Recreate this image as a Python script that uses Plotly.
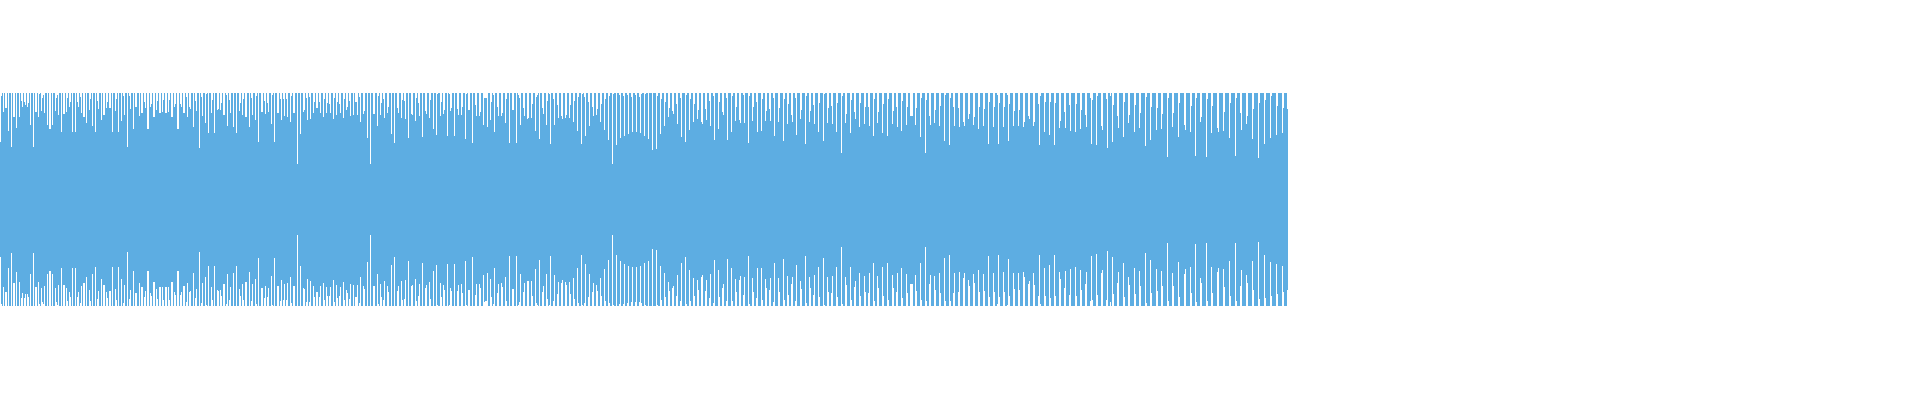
import plotly.graph_objects as go

# Peak level of the waveform, every sample not listed below sits at this level
PEAK = 106.5
N_SAMPLES = 1288

# Samples that fall short of the peak, and by how much on each side
dip_samples = [
    0, 1, 3, 5, 6, 8, 11, 13, 14, 16, 19, 21, 22, 24, 25, 27, 28, 30, 33, 35,
    36, 38, 39, 41, 42, 43, 44, 47, 49, 50, 52, 55, 56, 57, 58, 61, 63, 64, 66, 67,
    69, 70, 72, 75, 77, 78, 80, 81, 83, 84, 86, 89, 90, 92, 95, 97, 98, 101, 103, 104,
    106, 107, 109, 110, 112, 115, 116, 118, 121, 123, 124, 127, 129, 130, 133, 135, 136, 139, 141, 142,
    144, 145, 147, 148, 150, 151, 153, 154, 156, 157, 159, 160, 162, 163, 165, 166, 168, 169, 171, 172,
    174, 175, 177, 178, 180, 181, 183, 184, 186, 187, 189, 190, 193, 195, 196, 199, 201, 202, 205, 206,
    208, 211, 212, 214, 217, 218, 220, 221, 223, 224, 226, 227, 229, 230, 233, 236, 239, 240, 242, 243,
    245, 246, 249, 251, 252, 255, 256, 258, 261, 262, 264, 265, 267, 268, 271, 272, 274, 277, 278, 280,
    281, 283, 284, 286, 287, 290, 291, 293, 294, 297, 300, 303, 304, 306, 307, 309, 310, 313, 314, 316,
    317, 319, 320, 323, 324, 326, 327, 329, 330, 333, 334, 336, 337, 339, 340, 343, 344, 346, 347, 349,
    350, 353, 355, 356, 357, 359, 360, 363, 364, 367, 370, 373, 374, 377, 378, 380, 381, 383, 384, 387,
    388, 391, 394, 397, 398, 401, 402, 404, 405, 408, 411, 412, 415, 416, 418, 419, 422, 425, 426, 429,
    430, 433, 436, 437, 440, 441, 443, 444, 447, 449, 450, 451, 454, 457, 458, 461, 462, 465, 466, 468,
    469, 472, 475, 476, 479, 480, 483, 484, 485, 486, 487, 490, 491, 493, 494, 497, 498, 501, 502, 505,
    506, 509, 512, 513, 516, 518, 519, 520, 523, 524, 527, 528, 531, 532, 535, 536, 537, 539, 542, 543,
    546, 547, 549, 550, 553, 554, 557, 558, 561, 562, 565, 566, 569, 570, 573, 574, 577, 578, 581, 582,
    584, 585, 588, 589, 592, 593, 596, 597, 600, 601, 604, 605, 608, 609, 612, 613, 616, 619, 620, 623,
    624, 627, 628, 631, 632, 635, 636, 639, 640, 641, 644, 645, 648, 652, 656, 657, 660, 661, 664, 665,
    668, 669, 672, 673, 676, 677, 680, 681, 685, 686, 689, 690, 693, 694, 697, 698, 701, 702, 705, 706,
    709, 710, 713, 714, 718, 719, 722, 723, 726, 727, 731, 732, 735, 736, 739, 740, 743, 744, 748, 749,
    752, 753, 756, 757, 761, 762, 765, 766, 769, 770, 773, 774, 778, 779, 783, 784, 787, 788, 791, 792,
    795, 796, 800, 801, 805, 806, 809, 810, 813, 814, 818, 819, 823, 824, 827, 828, 831, 832, 836, 837,
    841, 842, 845, 846, 850, 851, 854, 855, 859, 860, 864, 865, 868, 869, 873, 874, 877, 878, 882, 883,
    887, 888, 892, 893, 896, 897, 901, 902, 906, 907, 910, 911, 912, 915, 916, 920, 921, 925, 926, 929,
    930, 934, 935, 939, 940, 944, 945, 949, 950, 953, 954, 958, 959, 963, 964, 968, 969, 973, 974, 978,
    979, 983, 984, 988, 989, 993, 994, 997, 998, 999, 1003, 1004, 1007, 1008, 1009, 1013, 1014, 1018, 1019, 1023,
    1024, 1028, 1029, 1033, 1034, 1038, 1039, 1040, 1044, 1045, 1049, 1050, 1054, 1055, 1059, 1060, 1064, 1065, 1069, 1070,
    1075, 1076, 1080, 1081, 1085, 1086, 1090, 1091, 1092, 1096, 1097, 1101, 1102, 1106, 1107, 1110, 1112, 1113, 1117, 1118,
    1123, 1124, 1128, 1129, 1134, 1135, 1139, 1140, 1145, 1146, 1150, 1151, 1156, 1157, 1161, 1162, 1167, 1168, 1172, 1173,
    1178, 1179, 1184, 1185, 1190, 1191, 1195, 1196, 1200, 1201, 1206, 1207, 1211, 1212, 1217, 1218, 1223, 1224, 1229, 1230,
    1235, 1236, 1240, 1241, 1246, 1247, 1252, 1253, 1258, 1259, 1264, 1265, 1270, 1271, 1276, 1277, 1282, 1283, 1287,
]
upper_dips = [
    49, 3, 19, 15, 15, 38, 54, 24, 24, 35, 24, 8, 14, 9, 12, 14, 10, 32, 54, 19,
    19, 24, 1, 18, 5, 2, 20, 32, 36, 36, 32, 18, 5, 2, 22, 39, 21, 21, 19, 5,
    14, 9, 39, 39, 9, 14, 4, 20, 24, 24, 30, 17, 6, 33, 39, 8, 16, 27, 22, 22,
    15, 9, 15, 15, 39, 18, 6, 39, 28, 3, 22, 54, 3, 16, 36, 14, 14, 23, 20, 20,
    9, 15, 36, 36, 14, 11, 24, 24, 17, 8, 20, 20, 19, 7, 20, 20, 19, 7, 24, 24,
    14, 11, 36, 36, 11, 14, 20, 20, 4, 24, 14, 16, 34, 8, 18, 55, 4, 23, 30, 1,
    40, 20, 7, 40, 17, 16, 17, 10, 22, 22, 2, 33, 7, 20, 34, 40, 18, 10, 22, 6,
    24, 24, 34, 5, 22, 27, 3, 49, 19, 19, 8, 21, 10, 19, 31, 2, 49, 20, 20, 6,
    27, 6, 23, 6, 24, 29, 3, 20, 20, 71, 41, 19, 17, 5, 27, 4, 26, 20, 9, 15,
    15, 9, 20, 24, 6, 20, 10, 11, 20, 26, 5, 22, 9, 11, 20, 25, 6, 17, 14, 8,
    23, 22, 9, 9, 22, 4, 29, 21, 18, 45, 71, 21, 21, 33, 3, 22, 10, 6, 25, 20,
    14, 41, 50, 15, 20, 25, 7, 8, 26, 45, 21, 22, 28, 5, 10, 23, 44, 18, 21, 25,
    7, 36, 42, 1, 23, 9, 21, 17, 43, 1, 18, 15, 43, 16, 22, 22, 14, 46, 1, 17,
    17, 50, 12, 23, 23, 19, 32, 5, 5, 5, 34, 27, 9, 2, 39, 14, 23, 23, 20, 30,
    6, 50, 17, 17, 50, 2, 5, 32, 15, 23, 26, 25, 25, 11, 38, 4, 2, 46, 15, 21,
    32, 8, 1, 51, 6, 32, 12, 25, 23, 26, 25, 22, 25, 12, 29, 8, 38, 4, 51, 1,
    4, 43, 9, 33, 14, 23, 22, 16, 29, 11, 37, 6, 47, 3, 71, 1, 52, 2, 45, 3,
    43, 2, 41, 4, 39, 2, 39, 4, 40, 1, 43, 1, 46, 57, 56, 3, 41, 6, 33, 9,
    24, 15, 18, 21, 11, 31, 5, 44, 49, 2, 37, 6, 29, 11, 26, 17, 29, 31, 16, 27,
    8, 33, 3, 47, 36, 9, 19, 22, 5, 47, 39, 3, 28, 14, 27, 30, 2, 30, 50, 3,
    28, 14, 9, 39, 38, 6, 28, 18, 16, 28, 5, 43, 29, 15, 48, 6, 31, 11, 22, 29,
    5, 42, 26, 17, 51, 3, 29, 18, 12, 31, 39, 10, 48, 1, 30, 15, 13, 31, 39, 10,
    60, 3, 30, 21, 40, 7, 19, 26, 34, 10, 31, 14, 14, 33, 43, 6, 30, 19, 40, 11,
    43, 6, 31, 18, 14, 34, 38, 8, 32, 14, 23, 23, 23, 32, 15, 44, 5, 60, 7, 23,
    32, 30, 17, 33, 13, 48, 2, 52, 5, 14, 33, 15, 34, 29, 33, 26, 21, 32, 24, 36,
    14, 33, 16, 51, 9, 34, 14, 2, 51, 10, 34, 14, 2, 48, 11, 33, 18, 33, 17, 34,
    29, 23, 26, 33, 29, 11, 52, 3, 39, 9, 42, 9, 52, 10, 35, 28, 19, 35, 12, 38,
    39, 11, 36, 17, 22, 34, 5, 51, 7, 52, 3, 33, 37, 6, 55, 3, 49, 12, 23, 35,
    44, 9, 30, 22, 39, 12, 35, 20, 53, 4, 47, 14, 37, 15, 36, 21, 64, 5, 34, 20,
    44, 10, 32, 37, 39, 13, 63, 5, 29, 24, 64, 6, 40, 13, 35, 39, 38, 19, 45, 10,
    63, 5, 20, 37, 31, 23, 46, 16, 65, 10, 51, 7, 45, 3, 42, 13, 40, 15, 16,
]
lower_dips = [
    49, 2, 19, 14, 14, 38, 53, 23, 23, 34, 24, 8, 13, 8, 12, 12, 9, 32, 53, 19,
    19, 24, 2, 18, 4, 2, 20, 32, 35, 35, 32, 18, 4, 1, 21, 38, 21, 21, 18, 5,
    14, 9, 38, 38, 9, 14, 3, 20, 23, 23, 29, 16, 5, 32, 39, 7, 15, 27, 21, 21,
    14, 8, 15, 15, 39, 17, 6, 39, 27, 3, 21, 54, 7, 16, 35, 13, 13, 23, 19, 19,
    9, 15, 35, 35, 13, 10, 24, 24, 17, 7, 19, 19, 19, 6, 19, 19, 19, 6, 24, 24,
    14, 11, 35, 35, 11, 14, 20, 20, 4, 23, 14, 15, 33, 8, 17, 54, 3, 23, 29, 1,
    40, 19, 6, 40, 16, 15, 16, 10, 22, 22, 2, 32, 6, 19, 33, 40, 17, 10, 22, 6,
    24, 24, 34, 5, 22, 27, 2, 48, 18, 18, 8, 20, 9, 18, 30, 1, 48, 20, 20, 5,
    26, 6, 22, 6, 23, 29, 3, 20, 20, 71, 40, 18, 17, 4, 27, 4, 25, 20, 9, 14,
    14, 9, 20, 23, 6, 19, 10, 10, 19, 26, 4, 21, 8, 10, 19, 24, 6, 16, 13, 7,
    22, 21, 9, 9, 21, 3, 29, 20, 17, 44, 71, 20, 20, 32, 2, 22, 9, 6, 25, 20,
    14, 41, 49, 15, 20, 25, 6, 7, 26, 45, 20, 21, 27, 5, 10, 22, 43, 18, 21, 24,
    7, 35, 41, 1, 23, 9, 21, 16, 42, 1, 18, 15, 42, 15, 21, 22, 13, 45, 1, 16,
    16, 49, 11, 22, 22, 18, 31, 4, 5, 5, 33, 27, 9, 2, 38, 13, 22, 23, 19, 29,
    5, 50, 17, 17, 50, 1, 4, 32, 14, 23, 25, 25, 25, 10, 37, 3, 1, 46, 14, 20,
    32, 7, 1, 50, 5, 31, 12, 24, 23, 26, 24, 21, 24, 12, 28, 7, 38, 3, 51, 1,
    3, 42, 9, 32, 14, 23, 21, 15, 28, 10, 37, 5, 46, 3, 71, 1, 51, 2, 45, 2,
    42, 3, 40, 4, 39, 4, 39, 4, 40, 3, 43, 1, 45, 57, 56, 1, 40, 6, 33, 9,
    24, 15, 18, 20, 10, 31, 5, 43, 49, 2, 36, 5, 28, 10, 26, 16, 29, 31, 15, 26,
    8, 32, 3, 46, 36, 9, 18, 22, 5, 47, 38, 5, 27, 14, 26, 30, 11, 29, 50, 2,
    28, 14, 8, 38, 38, 6, 27, 18, 16, 28, 4, 43, 28, 14, 47, 6, 30, 11, 22, 29,
    5, 41, 25, 17, 50, 3, 29, 18, 11, 31, 39, 9, 48, 1, 29, 14, 13, 30, 39, 9,
    59, 2, 29, 21, 39, 6, 19, 25, 33, 10, 30, 14, 13, 33, 43, 5, 30, 18, 39, 10,
    43, 6, 31, 18, 14, 33, 38, 8, 32, 13, 22, 22, 22, 31, 15, 43, 6, 59, 5, 22,
    31, 30, 16, 33, 13, 48, 5, 51, 5, 13, 33, 14, 34, 28, 33, 26, 20, 32, 23, 36,
    14, 32, 15, 50, 9, 33, 14, 2, 51, 9, 34, 14, 1, 47, 10, 33, 17, 33, 16, 34,
    29, 22, 25, 33, 21, 10, 51, 2, 38, 10, 41, 8, 51, 10, 34, 27, 18, 35, 11, 37,
    39, 10, 36, 16, 22, 34, 5, 50, 6, 52, 11, 33, 36, 6, 55, 4, 49, 12, 23, 34,
    43, 9, 29, 21, 38, 12, 35, 20, 53, 3, 46, 13, 37, 15, 35, 20, 63, 5, 33, 20,
    44, 9, 32, 37, 39, 13, 62, 4, 28, 23, 63, 5, 39, 13, 34, 38, 37, 19, 45, 10,
    63, 5, 20, 36, 31, 23, 45, 16, 64, 7, 51, 8, 44, 10, 42, 12, 40, 14, 16,
]

assert len(dip_samples) == len(upper_dips) == len(lower_dips)

upper = {s: PEAK - d for s, d in zip(dip_samples, upper_dips)}
lower = {s: PEAK - d for s, d in zip(dip_samples, lower_dips)}
samples = list(range(N_SAMPLES))
tops = [upper.get(s, PEAK) for s in samples]
bottoms = [-lower.get(s, PEAK) for s in samples]

fig = go.Figure(
    go.Bar(
        x=samples,
        y=[t - b for t, b in zip(tops, bottoms)],
        base=bottoms,
        width=1,
        marker=dict(color="#5dade2", line=dict(width=0)),
    )
)

fig.update_layout(
    width=1920,
    height=400,
    margin=dict(l=0, r=0, t=0, b=0),
    showlegend=False,
    plot_bgcolor="white",
    paper_bgcolor="white",
    hovermode=False,
    xaxis=dict(visible=False, range=[-0.5, 1919.5]),
    yaxis=dict(visible=False, range=[-200.5, 199.5]),
)

# the page body has a default margin that would push the plot off the corner
fig.write_html(
    "out.html",
    config={"displayModeBar": False},
    post_script="document.body.style.margin = '0';",
)
